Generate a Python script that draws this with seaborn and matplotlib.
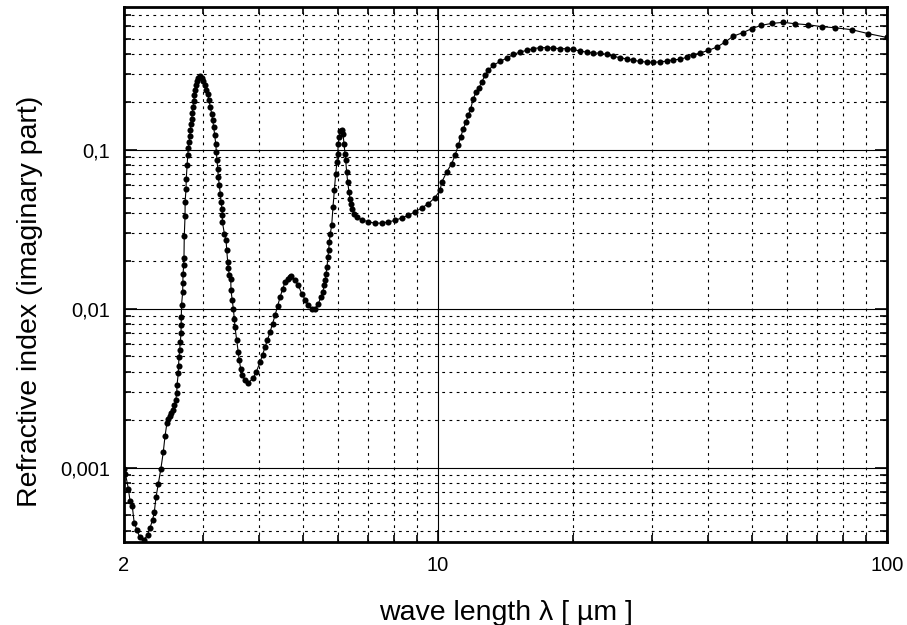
import numpy as np
import pandas as pd
import matplotlib
matplotlib.use("Agg")
import matplotlib.pyplot as plt
import matplotlib.ticker as mticker
import seaborn as sns

# ---- data ----
wavelength_um = [
    2.00, 2.015, 2.045, 2.063, 2.087, 2.107, 2.138, 2.168, 2.214, 2.257, 2.285, 2.315, 2.336,
    2.357, 2.385, 2.415, 2.446, 2.468, 2.493, 2.512, 2.532, 2.551, 2.571, 2.591, 2.607, 2.621,
    2.625, 2.642, 2.645, 2.652, 2.661, 2.669, 2.679, 2.681, 2.683, 2.686, 2.702, 2.704, 2.707,
    2.716, 2.720, 2.724, 2.735, 2.736, 2.749, 2.752, 2.763, 2.773, 2.782, 2.792, 2.802, 2.810,
    2.820, 2.830, 2.839, 2.849, 2.859, 2.868, 2.878, 2.893, 2.908, 2.927, 2.953, 2.979, 3.003,
    3.029, 3.050, 3.072, 3.093, 3.113, 3.136, 3.152, 3.168, 3.184, 3.201, 3.211, 3.222, 3.234,
    3.244, 3.261, 3.277, 3.289, 3.306, 3.311, 3.312, 3.346, 3.375, 3.387, 3.404, 3.415, 3.432,
    3.457, 3.462, 3.485, 3.503, 3.521, 3.533, 3.564, 3.593, 3.612, 3.638, 3.668, 3.719, 3.782,
    3.875, 3.936, 4.017, 4.069, 4.121, 4.174, 4.228, 4.283, 4.339, 4.394, 4.451, 4.508, 4.566,
    4.625, 4.685, 4.709, 4.806, 4.888, 4.975, 5.060, 5.146, 5.236, 5.325, 5.416, 5.492, 5.540,
    5.585, 5.614, 5.634, 5.663,
    5.692, 5.712, 5.730, 5.759, 5.801, 5.840, 5.879, 5.921, 5.961, 5.982, 6.001, 6.022, 6.053,
    6.106, 6.147, 6.179, 6.210, 6.232, 6.264, 6.297, 6.339, 6.372, 6.405, 6.448, 6.514, 6.595,
    6.766, 6.998, 7.243, 7.496, 7.754, 8.026, 8.306, 8.592, 8.892, 9.204, 9.520, 9.852, 10.11,
    10.20, 10.46, 10.73, 10.92, 11.10, 11.24, 11.39, 11.55, 11.69, 11.83, 11.99, 12.16, 12.35,
    12.52, 12.73, 12.95, 13.28, 13.75, 14.23, 14.72, 15.23, 15.77, 16.31, 16.88, 17.47, 18.07,
    18.70, 19.36, 20.03, 20.72, 21.45, 22.18, 22.96, 23.76, 24.58, 25.44, 26.33, 27.23, 28.18,
    29.17, 30.17, 31.22, 32.32, 33.43, 34.60, 35.81, 37.05, 38.34, 40.01, 41.77, 43.58, 45.47,
    47.72, 49.96, 52.41, 55.38, 58.76, 62.39, 66.81, 71.55, 76.59, 83.44, 90.86, 100.0,
]
k_imag = [
    0.00098, 0.000910, 0.000738, 0.000614, 0.000571, 0.000450, 0.000403, 0.000365, 0.000349,
    0.000378, 0.000417, 0.000467, 0.000524, 0.000653, 0.000792, 0.000973, 0.001248, 0.001574,
    0.001914, 0.002014, 0.002104, 0.002198, 0.002312, 0.002466, 0.002649, 0.002931, 0.003319,
    0.003917, 0.004365, 0.004943, 0.005508, 0.006185, 0.007000, 0.007853, 0.008874, 0.0105,
    0.0127, 0.01459, 0.01644, 0.01879, 0.02080, 0.02851, 0.0382, 0.0468, 0.0569, 0.0658, 0.0796,
    0.0921, 0.1030, 0.1117, 0.1213, 0.1322, 0.1443, 0.1567, 0.1698, 0.1853, 0.2023, 0.2196,
    0.2362, 0.2537, 0.2699, 0.2838, 0.2891, 0.2838, 0.2699, 0.2537, 0.2362, 0.2228, 0.2040,
    0.1853, 0.1683, 0.1528, 0.1387, 0.1230, 0.1091, 0.0966, 0.0857, 0.0760, 0.0673, 0.0596,
    0.0528, 0.0468, 0.0425, 0.0386, 0.0351, 0.0296, 0.0269, 0.0233, 0.0196, 0.0179, 0.0162,
    0.0154, 0.0130, 0.01127, 0.0100, 0.00865, 0.00766, 0.00632, 0.00533, 0.00473, 0.00419,
    0.00380, 0.00354, 0.00341,
    0.00365, 0.00397, 0.00459, 0.00512, 0.00571, 0.00637, 0.00710, 0.00802, 0.00908, 0.01033,
    0.01178, 0.01321, 0.01462, 0.01538, 0.01581, 0.01604, 0.01507, 0.01403, 0.01242, 0.01140,
    0.0105, 0.0100, 0.0100, 0.01074, 0.01183, 0.0127, 0.01403, 0.0152, 0.0166, 0.0183,
    0.0211, 0.0235, 0.0262, 0.0296, 0.0334, 0.0436, 0.0555, 0.0706, 0.0836, 0.0944, 0.1091,
    0.1200, 0.1303, 0.1322, 0.1261, 0.1091, 0.0944, 0.0857, 0.0723, 0.0625, 0.0541, 0.0492,
    0.0457, 0.0425, 0.0395, 0.0377, 0.0363, 0.0351, 0.0345, 0.0345, 0.0351, 0.0359, 0.0372,
    0.0386, 0.0406, 0.0430, 0.0457, 0.0499, 0.0555, 0.0625, 0.0723, 0.0817, 0.0921, 0.1064,
    0.1200, 0.1355, 0.1493, 0.1644, 0.1811, 0.2094, 0.2301, 0.2455, 0.2663, 0.2931, 0.3152,
    0.3390, 0.3592, 0.3767, 0.3974, 0.4111, 0.4214, 0.4319, 0.4384, 0.4384, 0.4358, 0.4319,
    0.4319, 0.4274, 0.4170, 0.4111, 0.4053, 0.4053, 0.3974, 0.3862, 0.3793, 0.3719, 0.3651,
    0.3592, 0.3556, 0.3540, 0.3572, 0.3604, 0.3681, 0.3698, 0.3818, 0.3958, 0.4053, 0.4214,
    0.4413, 0.4751, 0.5178, 0.5443, 0.5768, 0.6051, 0.6229, 0.6324, 0.6200, 0.6105, 0.5942,
    0.5848, 0.5689, 0.5370, 0.5081,
]
x_tick_values = [2, 10, 100]
x_tick_labels = ["2", "10", "100"]
y_tick_values = [0.001, 0.01, 0.1]
y_tick_labels = ["0,001", "0,01", "0,1"]
x_label = "wave length \u03bb [ \u00b5m ]"
y_label = "Refractive index (imaginary part)"

df = pd.DataFrame({"wavelength": wavelength_um, "k": k_imag})

sns.set_theme(style="white")
plt.rcParams["font.family"] = ["Liberation Sans", "DejaVu Sans"]
plt.rcParams["text.color"] = "black"
plt.rcParams["axes.labelcolor"] = "black"
plt.rcParams["xtick.color"] = "black"
plt.rcParams["ytick.color"] = "black"

fig = plt.figure(figsize=(9.07, 6.25), dpi=100)
ax = fig.add_axes([124 / 907, 1 - 542 / 625, (887 - 124) / 907, (542 - 7) / 625])

sns.lineplot(data=df, x="wavelength", y="k", ax=ax, estimator=None, sort=False,
             color="black", linewidth=0.8, marker="o", markersize=4.4,
             markeredgewidth=0, markerfacecolor="black", zorder=5, clip_on=True)

ax.set_xscale("log")
ax.set_yscale("log")
ax.set_xlim(2, 100)
ax.set_ylim(0.00034, 0.79)

# major ticks / labels
ax.xaxis.set_major_locator(mticker.FixedLocator(x_tick_values))
ax.xaxis.set_major_formatter(mticker.FixedFormatter(x_tick_labels))
ax.xaxis.set_minor_locator(mticker.LogLocator(base=10, subs=np.arange(2, 10), numticks=20))
ax.xaxis.set_minor_formatter(mticker.NullFormatter())
ax.yaxis.set_major_locator(mticker.FixedLocator(y_tick_values))
ax.yaxis.set_major_formatter(mticker.FixedFormatter(y_tick_labels))
ax.yaxis.set_minor_locator(mticker.LogLocator(base=10, subs=np.arange(2, 10), numticks=20))
ax.yaxis.set_minor_formatter(mticker.NullFormatter())

ax.tick_params(which="both", direction="in", top=True, right=True, bottom=True, left=True,
               color="black", labelcolor="black")
ax.tick_params(which="major", length=9, width=1.2)
ax.tick_params(which="minor", length=5, width=1.2)
ax.tick_params(axis="y", which="major", labelsize=14.5, pad=10)
ax.tick_params(axis="x", which="major", labelsize=14.5, pad=10)

# grids
ax.grid(False)
ax.grid(which="major", color="black", linewidth=0.8, linestyle="-")
ax.grid(which="minor", color="black", linewidth=0.8, linestyle=(0, (2.5, 4)))
ax.set_axisbelow(True)

for s in ax.spines.values():
    s.set_color("black")
    s.set_linewidth(2)

ax.set_xlabel(x_label, fontsize=20.5, labelpad=18, color="black")
ax.set_ylabel(y_label, fontsize=20.5, va="center", color="black")
ax.yaxis.set_label_coords(-0.123, 0.449)

fig.savefig("out.png", dpi=100)
